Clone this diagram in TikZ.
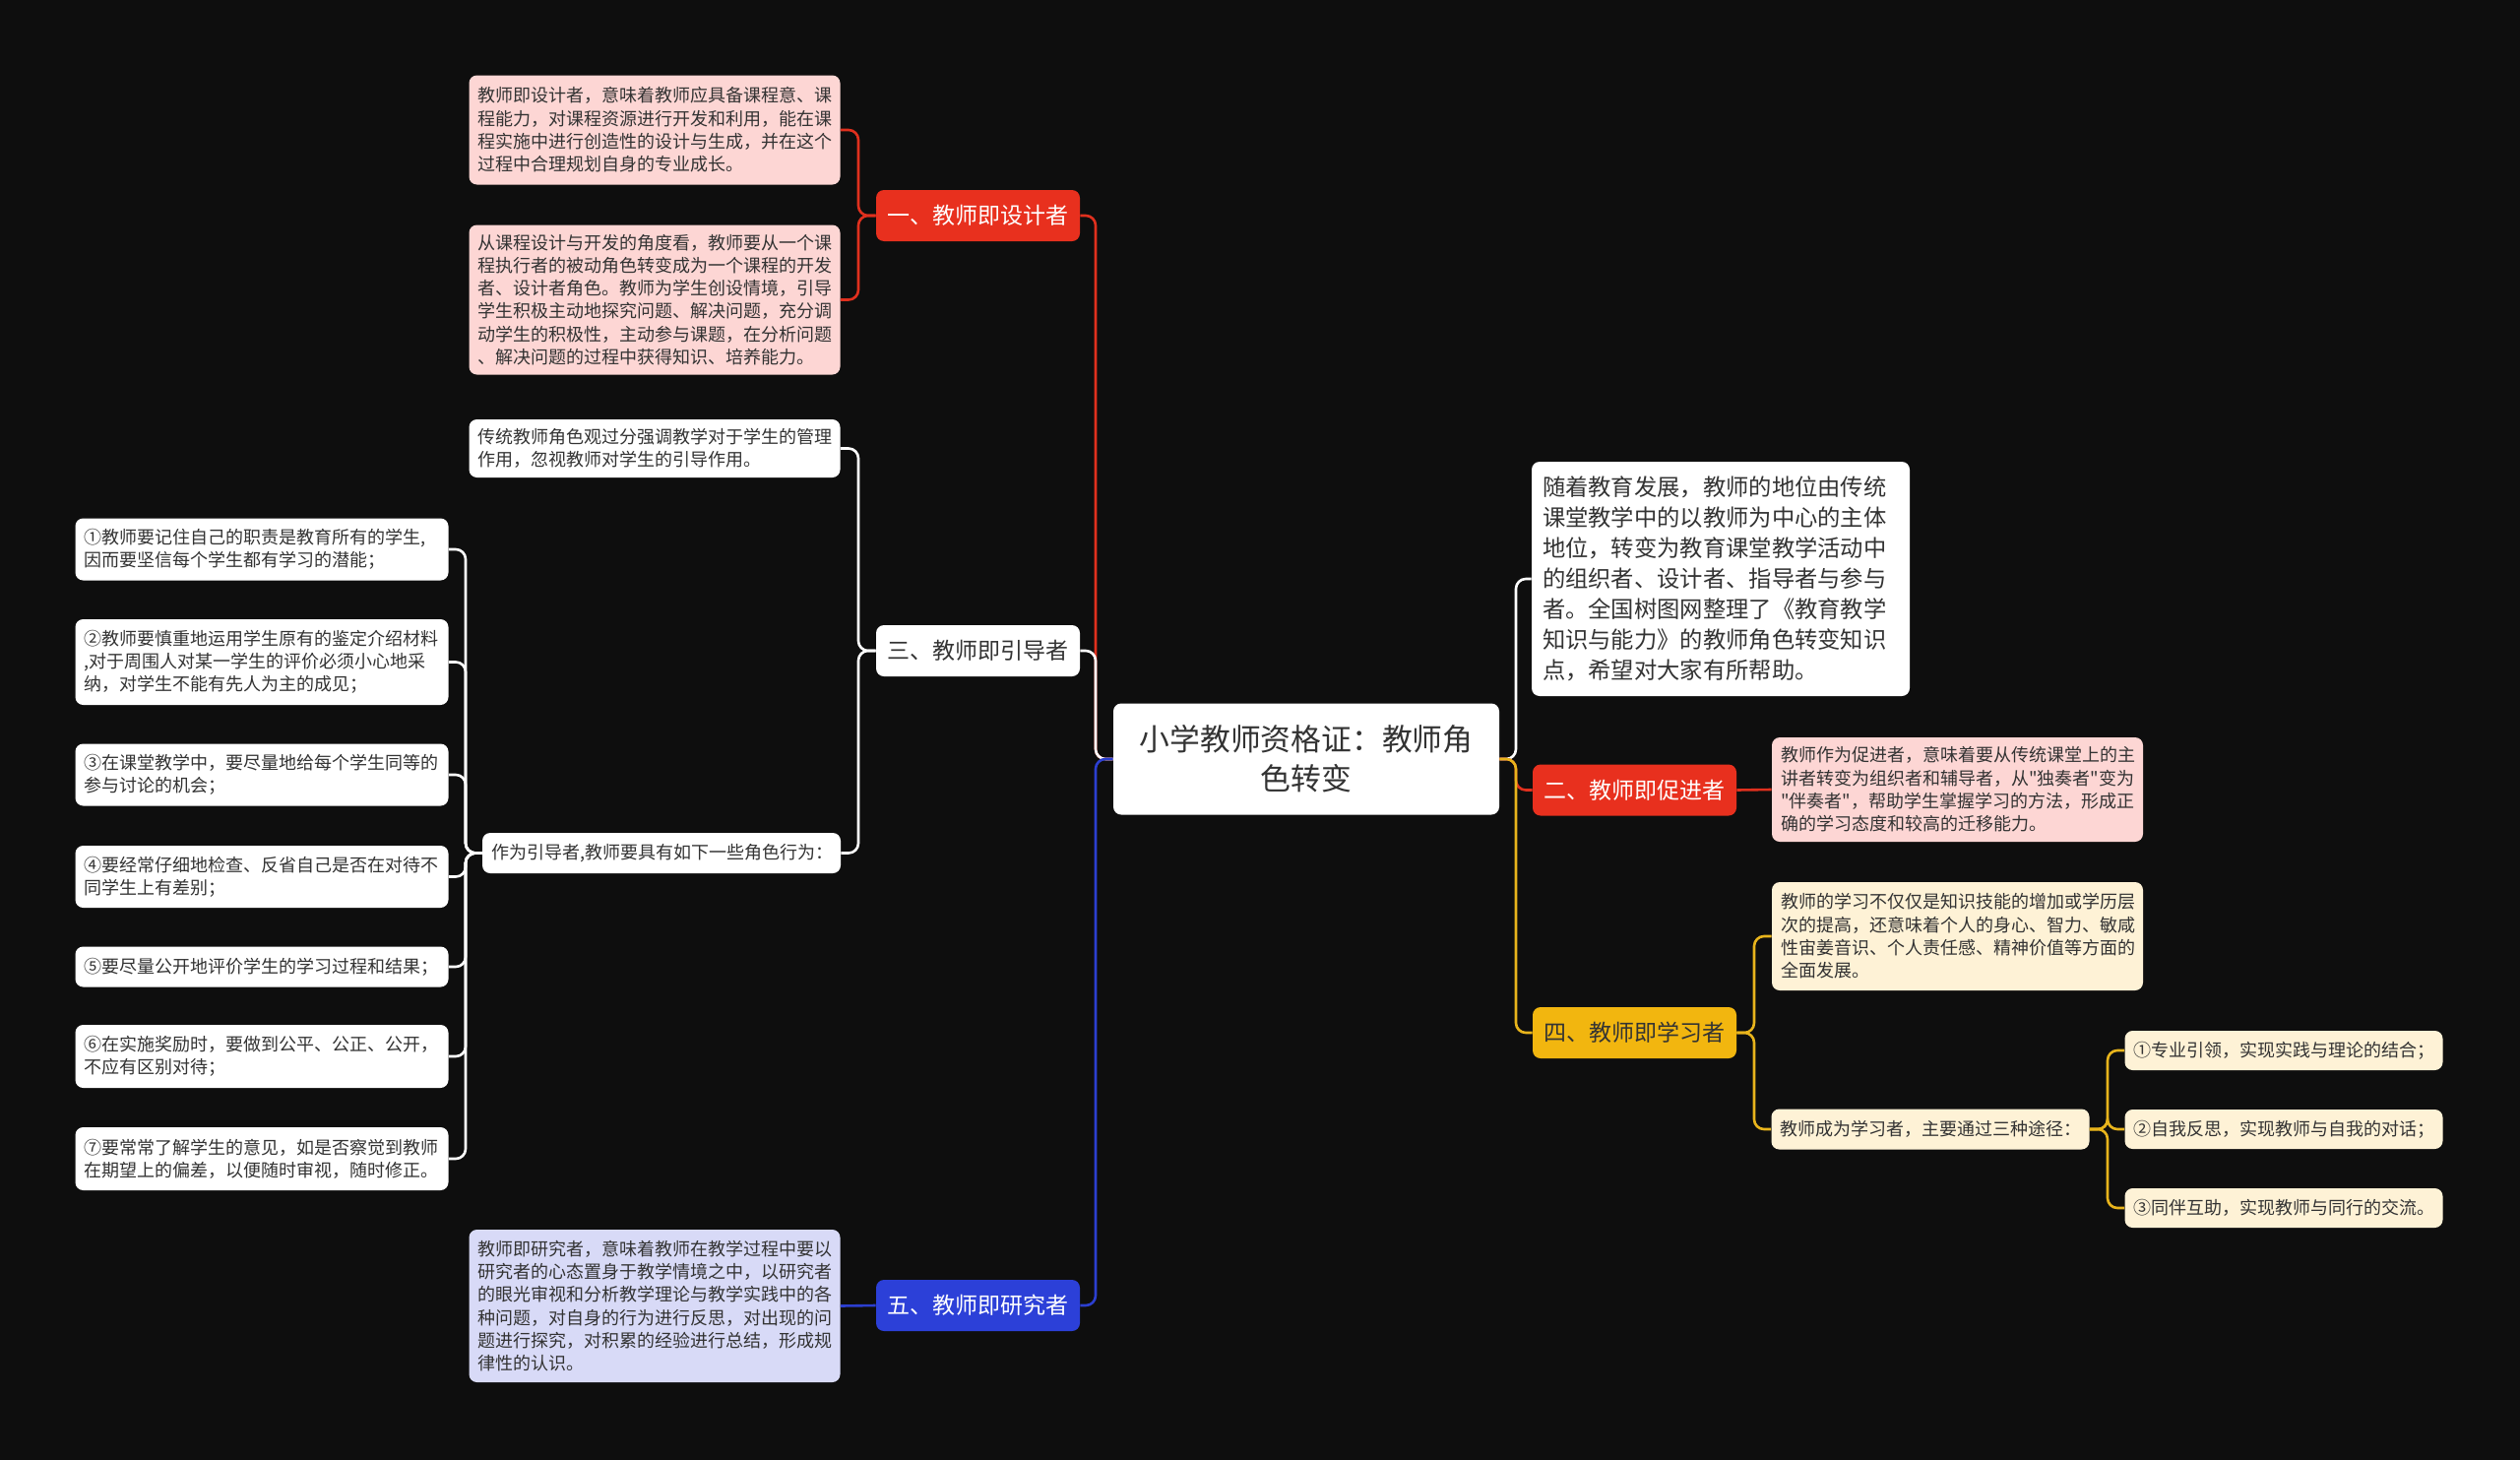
\documentclass[tikz,border=0pt]{standalone}
\usepackage{fontspec}
\setmainfont{Noto Sans CJK SC}
\newfontfamily\qfont{Noto Sans CJK SC}
\definecolor{bg}{HTML}{0E0E0E}
\definecolor{txt}{HTML}{333333}
\definecolor{redn}{HTML}{E8301E}
\definecolor{pinkn}{HTML}{FDD6D4}
\definecolor{yelln}{HTML}{F2B60F}
\definecolor{creamn}{HTML}{FEF2D6}
\definecolor{bluen}{HTML}{2C40D8}
\definecolor{lavn}{HTML}{D8DAF7}
\definecolor{redl}{HTML}{E0301E}
\definecolor{yell}{HTML}{E8B41C}
\definecolor{bluel}{HTML}{2C3FD0}
\newcommand{\sq}{{\qfont"}}
\begin{document}
\begin{tikzpicture}[x=0.5pt,y=-0.5pt,
  basebox/.style={rounded corners=4pt, inner ysep=0pt, anchor=center, text=txt},
  notebox/.style={basebox, font=\fontsize{9pt}{11.65pt}\selectfont, align=left, inner xsep=4.5pt},
  leftnote/.style={notebox, text width=179.5pt},
  itembox/.style={notebox, text width=180.5pt},
  rightitem/.style={notebox, text width=152.5pt},
  mainbox/.style={basebox, font=\fontsize{11.5pt}{14pt}\selectfont, minimum width=103.5pt, minimum height=26pt, inner xsep=0pt, align=center},
  conn/.style={line width=1.3pt, rounded corners=5pt},
]
\fill[bg] (0,0) rectangle (2560,1483);
\useasboundingbox (0,0) rectangle (2560,1483);

% root
\node[basebox, fill=white, font=\fontsize{15.4pt}{20pt}\selectfont, align=center, text width=185pt, minimum height=56.5pt, inner xsep=5.5pt] (root) at (1327,771) {小学教师资格证：教师角\\色转变};

% right side
\node[basebox, fill=white, font=\fontsize{11.65pt}{15.5pt}\selectfont, align=left, text width=181pt, inner xsep=5.5pt, minimum height=119pt] (intro) at (1748,588) {随着教育发展，教师的地位由传统\\课堂教学中的以教师为中心的主体\\地位，转变为教育课堂教学活动中\\的组织者、设计者、指导者与参与\\者。全国树图网整理了《教育教学\\知识与能力》的教师角色转变知识\\点，希望对大家有所帮助。};

\node[mainbox, fill=redn, text=white] (b2) at (1660.5,802.5) {二、教师即促进者};
\node[leftnote, fill=pinkn, minimum height=53pt] (b2a) at (1988.5,802) {教师作为促进者，意味着要从传统课堂上的主\\讲者转变为组织者和辅导者，从\sq 独奏者\sq 变为\\\sq 伴奏者\sq ，帮助学生掌握学习的方法，形成正\\确的学习态度和较高的迁移能力。};

\node[mainbox, fill=yelln] (b4) at (1660.5,1049) {四、教师即学习者};
\node[leftnote, fill=creamn, minimum height=55pt] (b4a) at (1988.5,951) {教师的学习不仅仅是知识技能的增加或学历层\\次的提高，还意味着个人的身心、智力、敏咸\\性宙姜音识、个人责任感、精神价值等方面的\\全面发展。};
\node[rightitem, fill=creamn, minimum height=20.5pt] (b4b) at (1961,1147) {教师成为学习者，主要通过三种途径：};
\node[rightitem, fill=creamn, minimum height=20pt] (r1) at (2320,1067) {①专业引领，实现实践与理论的结合；};
\node[rightitem, fill=creamn, minimum height=20pt] (r2) at (2320,1147) {②自我反思，实现教师与自我的对话；};
\node[rightitem, fill=creamn, minimum height=20pt] (r3) at (2320,1227) {③同伴互助，实现教师与同行的交流。};

% left side
\node[mainbox, fill=redn, text=white] (b1) at (993.5,219) {一、教师即设计者};
\node[leftnote, fill=pinkn, minimum height=55.5pt] (b1a) at (665,132) {教师即设计者，意味着教师应具备课程意、课\\程能力，对课程资源进行开发和利用，能在课\\程实施中进行创造性的设计与生成，并在这个\\过程中合理规划自身的专业成长。};
\node[leftnote, fill=pinkn, minimum height=76pt] (b1b) at (665,304.5) {从课程设计与开发的角度看，教师要从一个课\\程执行者的被动角色转变成为一个课程的开发\\者、设计者角色。教师为学生创设情境，引导\\学生积极主动地探究问题、解决问题，充分调\\动学生的积极性，主动参与课题，在分析问题\\、解决问题的过程中获得知识、培养能力。};

\node[mainbox, fill=white] (b3) at (993.5,661) {三、教师即引导者};
\node[leftnote, fill=white, minimum height=29.5pt] (b3a) at (665,455.5) {传统教师角色观过分强调教学对于学生的管理\\作用，忽视教师对学生的引导作用。};
\node[notebox, fill=white, text width=173pt, minimum height=20.5pt] (b3b) at (672,866.5) {作为引导者,教师要具有如下一些角色行为：};

\node[itembox, fill=white, minimum height=31.5pt] (i1) at (266,558) {①教师要记住自己的职责是教育所有的学生,\\因而要坚信每个学生都有学习的潜能；};
\node[itembox, fill=white, minimum height=43.5pt] (i2) at (266,672.5) {②教师要慎重地运用学生原有的鉴定介绍材料\\,对于周围人对某一学生的评价必须小心地采\\纳，对学生不能有先人为主的成见；};
\node[itembox, fill=white, minimum height=31.5pt] (i3) at (266,787) {③在课堂教学中，要尽量地给每个学生同等的\\参与讨论的机会；};
\node[itembox, fill=white, minimum height=31.5pt] (i4) at (266,890.5) {④要经常仔细地检查、反省自己是否在对待不\\同学生上有差别；};
\node[itembox, fill=white, minimum height=20.5pt] (i5) at (266,982) {⑤要尽量公开地评价学生的学习过程和结果；};
\node[itembox, fill=white, minimum height=32pt] (i6) at (266,1073) {⑥在实施奖励时，要做到公平、公正、公开，\\不应有区别对待；};
\node[itembox, fill=white, minimum height=32pt] (i7) at (266,1177) {⑦要常常了解学生的意见，如是否察觉到教师\\在期望上的偏差，以便随时审视，随时修正。};

\node[mainbox, fill=bluen, text=white] (b5) at (993.5,1326) {五、教师即研究者};
\node[leftnote, fill=lavn, minimum height=77.5pt] (b5a) at (665,1326.5) {教师即研究者，意味着教师在教学过程中要以\\研究者的心态置身于教学情境之中，以研究者\\的眼光审视和分析教学理论与教学实践中的各\\种问题，对自身的行为进行反思，对出现的问\\题进行探究，对积累的经验进行总结，形成规\\律性的认识。};

% connectors: root left
\draw[conn, redl]  (root.west) -- (1113,771) |- (b1.east);
\draw[conn, white] (root.west) -- (1113,771) |- (b3.east);
\draw[conn, bluel] (root.west) -- (1113,771) |- (b5.east);
% root right
\draw[conn, white] (root.east) -- (1540,771) |- (intro.west);
\draw[conn, redl]  (root.east) -- (1540,771) |- (b2.west);
\draw[conn, yell]  (root.east) -- (1540,771) |- (b4.west);

% branch 1
\draw[conn, redl] (b1.west) -- (872,219) |- (b1a.east);
\draw[conn, redl] (b1.west) -- (872,219) |- (b1b.east);
% branch 2
\draw[conn, redl] (b2.east) -- (b2a.west);
% branch 3
\draw[conn, white] (b3.west) -- (872,661) |- (b3a.east);
\draw[conn, white] (b3.west) -- (872,661) |- (b3b.east);
\foreach \n in {i1,i2,i3,i4,i5,i6,i7}
  \draw[conn, white] (b3b.west) -- (473,866.5) |- (\n.east);
% branch 4
\draw[conn, yell] (b4.east) -- (1782,1049) |- (b4a.west);
\draw[conn, yell] (b4.east) -- (1782,1049) |- (b4b.west);
\foreach \n in {r1,r2,r3}
  \draw[conn, yell] (b4b.east) -- (2141,1147) |- (\n.west);
% branch 5
\draw[conn, bluel] (b5.west) -- (b5a.east);
\end{tikzpicture}
\end{document}
